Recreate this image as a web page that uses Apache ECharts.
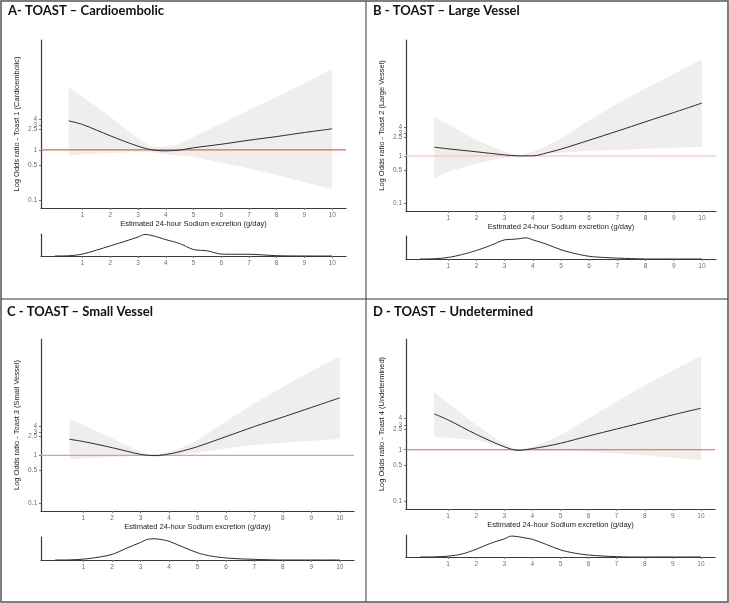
<!DOCTYPE html>
<html>
<head>
<meta charset="utf-8">
<script src="https://cdn.jsdelivr.net/npm/echarts@6/dist/echarts.min.js"></script>
<style>
    html, body { margin: 0; padding: 0; background: #fff; }
    #chart { width: 729px; height: 603px; }
</style>
</head>
<body>
<div id="chart"></div>
<script>
// sodium excretion (g/day) where the fitted curve was read
const sodiumX = [0.5, 1, 2, 3, 3.5, 4, 4.5, 5, 6, 7, 8, 9, 10]
const xTicks = [1, 2, 3, 4, 5, 6, 7, 8, 9, 10]
const xRange = [-0.5, 10.5]
// 3 sits before 2.5 so the outermost labels do not collide
const yTicks = [0.1, 0.5, 1, 3, 2.5, 4]
const refOdds = 1

// odds ratio fit + confidence band, one set per TOAST subtype
const cardioFit = [3.73, 3.16, 1.89, 1.18, 1.0, 0.955, 0.99, 1.1, 1.29, 1.55, 1.83, 2.2, 2.6]
const cardioHigh = [17, 11.1, 4.5, 1.67, 1.15, 1.15, 1.29, 1.8, 3.3, 6.1, 11.1, 20.4, 39]
const cardioLow = [0.77, 0.82, 0.87, 0.91, 0.9, 0.81, 0.77, 0.73, 0.56, 0.43, 0.32, 0.23, 0.17]

const largeFit = [1.53, 1.41, 1.22, 1.05, 1.0, 1.0, 1.16, 1.39, 2.15, 3.35, 5.3, 8.3, 13.2]
const largeHigh = [6.75, 4.7, 2.15, 1.22, 1.0, 1.22, 1.65, 2.34, 5.6, 12.9, 27, 54.7, 112]
const largeLow = [0.34, 0.46, 0.69, 0.92, 0.95, 1.03, 1.1, 1.18, 1.28, 1.34, 1.41, 1.48, 1.55]

const smallFit = [2.17, 1.94, 1.45, 1.05, 0.99, 1.07, 1.25, 1.52, 2.46, 4.0, 6.3, 10, 15.9]
const smallHigh = [5.8, 4.3, 2.27, 1.16, 1.0, 1.19, 1.5, 2.1, 5.1, 12.3, 26.7, 57, 117]
const smallLow = [0.84, 0.86, 0.92, 0.97, 0.94, 0.97, 1.05, 1.14, 1.4, 1.65, 1.84, 2.03, 2.2]

const undetFit = [4.9, 3.75, 1.98, 1.14, 0.97, 1.05, 1.17, 1.33, 1.84, 2.51, 3.43, 4.7, 6.3]
const undetHigh = [12.9, 7.9, 3.0, 1.29, 1.0, 1.14, 1.45, 1.92, 4.0, 8.5, 17.4, 33.8, 65]
const undetLow = [1.78, 1.7, 1.54, 1.09, 0.96, 0.94, 0.95, 0.96, 0.91, 0.85, 0.78, 0.7, 0.63]

// distribution of sodium excretion (relative height)
const densityX = [0, 0.5, 1, 1.5, 2, 2.5, 3, 3.25, 3.5, 3.75, 4, 4.5, 5, 5.5, 6, 6.5, 7, 7.5, 8, 9, 10]
const cardioDensity = [0, 0.01, 0.09, 0.27, 0.47, 0.67, 0.88, 1.0, 0.95, 0.86, 0.76, 0.58, 0.3, 0.24, 0.09, 0.08, 0.08, 0.05, 0.015, 0, 0]
const largeDensity = [0, 0.01, 0.07, 0.2, 0.38, 0.6, 0.85, 0.87, 0.9, 0.94, 0.85, 0.65, 0.41, 0.24, 0.12, 0.07, 0.04, 0.02, 0, 0, 0]
const smallDensity = [0, 0.005, 0.04, 0.12, 0.25, 0.52, 0.78, 0.92, 0.94, 0.9, 0.83, 0.57, 0.32, 0.17, 0.09, 0.05, 0.03, 0.01, 0, 0, 0]
const undetDensity = [0, 0.005, 0.04, 0.14, 0.36, 0.63, 0.84, 0.97, 0.94, 0.88, 0.82, 0.58, 0.33, 0.18, 0.09, 0.045, 0.015, 0, 0, 0, 0]

const panels = [
    {
        title: "A- TOAST \u2013 Cardioembolic",
        yName: "Log Odds ratio - Toast 1 (Cardioembolic)",
        fit: cardioFit, high: cardioHigh, low: cardioLow, density: cardioDensity,
        main: { left: 41, top: 40, width: 305, height: 168 },
        dens: { left: 41, top: 234, width: 305, height: 22 },
        yMin: 0.0716, yMax: 146, refColor: "#d66a5b", titlePos: [8, 4],
    },
    {
        title: "B - TOAST \u2013 Large Vessel",
        yName: "Log Odds ratio - Toast 2 (Large Vessel)",
        fit: largeFit, high: largeHigh, low: largeLow, density: largeDensity,
        main: { left: 406, top: 40, width: 310, height: 171 },
        dens: { left: 406, top: 236, width: 310, height: 23 },
        yMin: 0.0676, yMax: 288, refColor: "#f4c6bf", titlePos: [373, 4],
    },
    {
        title: "C - TOAST \u2013 Small Vessel",
        yName: "Log Odds ratio - Toast 3 (Small Vessel)",
        fit: smallFit, high: smallHigh, low: smallLow, density: smallDensity,
        main: { left: 41, top: 339, width: 313, height: 172 },
        dens: { left: 41, top: 537, width: 313, height: 23 },
        yMin: 0.069, yMax: 269, refColor: "#e39b92", titlePos: [7, 305],
    },
    {
        title: "D - TOAST \u2013 Undetermined",
        yName: "Log Odds ratio - Toast 4 (Undetermined)",
        fit: undetFit, high: undetHigh, low: undetLow, density: undetDensity,
        main: { left: 406, top: 339, width: 309, height: 170 },
        dens: { left: 406, top: 535, width: 309, height: 22 },
        yMin: 0.0721, yMax: 136, refColor: "#d6604f", titlePos: [373, 305],
    },
]

const axisLine = () => ({
    show: true,
    onZero: false,
    lineStyle: { color: "#3a3a3a", width: 1.2 },
})
const axisTick = (values) => ({
    show: true,
    customValues: values,
    length: 2,
    lineStyle: { color: "#777" },
})
const axisLabel = (values) => ({
    customValues: values,
    fontFamily: "Liberation Sans",
    fontSize: 6.5,
    color: "#6e6e6e",
    margin: 4,
    hideOverlap: false,
    showMinLabel: true,
    showMaxLabel: true,
})
const nameStyle = { fontFamily: "Liberation Sans", fontSize: 7.5, color: "#222" }

const grids = []
const xAxes = []
const yAxes = []
const series = []
const titles = []

panels.forEach((p, i) => {
    const gMain = i * 2
    const gDens = i * 2 + 1
    grids.push(p.main, p.dens)

    titles.push({
        text: p.title,
        left: p.titlePos[0],
        top: p.titlePos[1],
        padding: 0,
        textStyle: {
            fontFamily: "Lato",
            fontWeight: "bold",
            fontSize: 13,
            color: "#111",
        },
    })

    xAxes.push({
        gridIndex: gMain,
        type: "value",
        position: "bottom",
        min: xRange[0],
        max: xRange[1],
        name: "Estimated 24-hour Sodium excretion (g/day)",
        nameLocation: "middle",
        nameGap: 12,
        nameTextStyle: nameStyle,
        axisLine: axisLine(),
        axisTick: axisTick(xTicks),
        axisLabel: axisLabel(xTicks),
        splitLine: { show: false },
    })
    xAxes.push({
        gridIndex: gDens,
        type: "value",
        position: "bottom",
        min: xRange[0],
        max: xRange[1],
        axisLine: axisLine(),
        axisTick: axisTick(xTicks),
        axisLabel: axisLabel(xTicks),
        splitLine: { show: false },
    })

    yAxes.push({
        gridIndex: gMain,
        type: "log",
        logBase: 10,
        position: "left",
        min: p.yMin,
        max: p.yMax,
        name: p.yName,
        nameLocation: "middle",
        nameGap: 20,
        nameTextStyle: nameStyle,
        axisLine: axisLine(),
        axisTick: axisTick(yTicks),
        axisLabel: axisLabel(yTicks),
        splitLine: { show: false },
    })
    yAxes.push({
        gridIndex: gDens,
        type: "value",
        position: "left",
        min: 0,
        max: 1.02,
        axisLine: axisLine(),
        axisTick: { show: false },
        axisLabel: { show: false },
        splitLine: { show: false },
    })

    // confidence band drawn as one polygon through the axes
    series.push({
        type: "custom",
        xAxisIndex: gMain,
        yAxisIndex: gMain,
        silent: true,
        z: 1,
        data: [0],
        renderItem: (params, api) => {
            const pts = []
            sodiumX.forEach((x, k) => pts.push(api.coord([x, p.high[k]])))
            for (let k = sodiumX.length - 1; k >= 0; k--) {
                pts.push(api.coord([sodiumX[k], p.low[k]]))
            }
            return {
                type: "polygon",
                shape: { points: pts },
                style: { fill: "#efeeed" },
            }
        },
    })

    // reference line at odds ratio 1, across the full x range
    series.push({
        type: "line",
        xAxisIndex: gMain,
        yAxisIndex: gMain,
        data: xRange.map((x) => [x, refOdds]),
        showSymbol: false,
        silent: true,
        z: 2,
        lineStyle: { color: p.refColor, width: 1.2 },
    })

    series.push({
        type: "line",
        xAxisIndex: gMain,
        yAxisIndex: gMain,
        data: sodiumX.map((x, k) => [x, p.fit[k]]),
        smooth: 0.3,
        showSymbol: false,
        silent: true,
        z: 3,
        lineStyle: { color: "#2b2b2b", width: 1 },
    })

    series.push({
        type: "line",
        xAxisIndex: gDens,
        yAxisIndex: gDens,
        data: densityX.map((x, k) => [x, p.density[k]]),
        smooth: 0.3,
        showSymbol: false,
        silent: true,
        lineStyle: { color: "#2b2b2b", width: 1 },
    })
})

const chart = echarts.init(document.getElementById("chart"))
chart.setOption({
    animation: false,
    backgroundColor: "#fff",
    title: titles,
    grid: grids,
    xAxis: xAxes,
    yAxis: yAxes,
    series: series,
    graphic: [
        {
            type: "rect",
            shape: { x: 1, y: 1, width: 727, height: 601 },
            style: { fill: "none", stroke: "#555", lineWidth: 1.5 },
            silent: true,
        },
        {
            type: "line",
            shape: { x1: 366, y1: 1, x2: 366, y2: 602 },
            style: { stroke: "#333", lineWidth: 1 },
            silent: true,
        },
        {
            type: "line",
            shape: { x1: 1, y1: 299, x2: 728, y2: 299 },
            style: { stroke: "#333", lineWidth: 1 },
            silent: true,
        },
    ],
})
</script>
</body>
</html>
